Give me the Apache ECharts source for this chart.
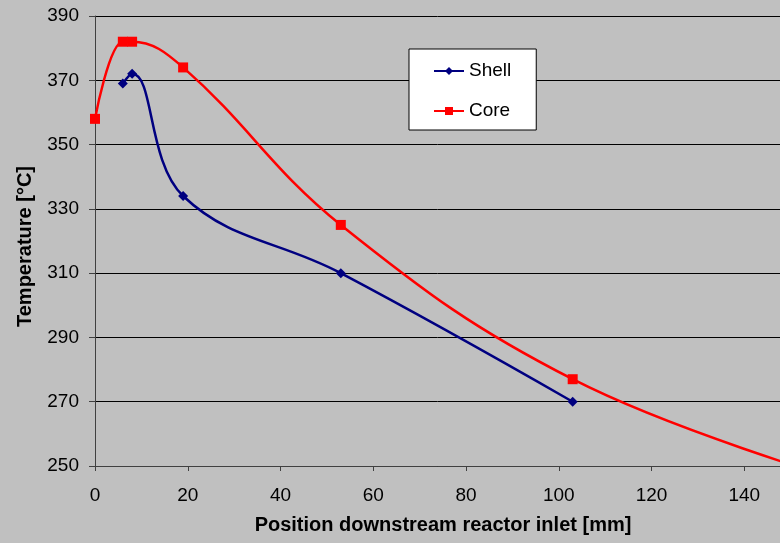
<!DOCTYPE html>
<html>
<head>
<meta charset="utf-8">
<script src="https://cdn.jsdelivr.net/npm/echarts@6/dist/echarts.min.js"></script>
<style>
  html, body { margin: 0; padding: 0; background: #C0C0C0; }
  #chart { width: 780px; height: 543px; }
</style>
</head>
<body>
<div id="chart"></div>
<script>
// Temperature profile along the reactor: shell vs. core
const shellPos  = [6, 8, 19, 53, 103];
const shellTemp = [369, 372, 334, 310, 270];
const corePos   = [0, 6, 8, 19, 53, 103, 160];
const coreTemp  = [358, 382, 382, 374, 325, 277, 246];
const xTicks = { min: 0, max: 147.7, step: 20 };
const yTicks = { min: 250, max: 390, step: 20 };

const pairs = (xs, ys) => xs.map((x, i) => [x, ys[i]]);

const font = 'Arial, "Liberation Sans", sans-serif';
const chart = echarts.init(document.getElementById('chart'));
chart.setOption({
  backgroundColor: '#C0C0C0',
  animation: false,
  textStyle: { fontFamily: font, color: '#000' },
  grid: { left: 95, top: 16, right: 0, bottom: 77 },
  legend: {
    orient: 'vertical',
    left: 409, top: 49,
    padding: [12, 25, 9, 24],
    itemGap: 20,
    itemWidth: 30, itemHeight: 10,
    backgroundColor: '#fff',
    borderColor: '#000', borderWidth: 1,
    textStyle: { fontFamily: font, fontSize: 19, color: '#000', lineHeight: 20 },
    data: ['Shell', 'Core']
  },
  xAxis: {
    type: 'value',
    min: xTicks.min, max: xTicks.max, interval: xTicks.step,
    name: 'Position downstream reactor inlet [mm]',
    nameLocation: 'middle', nameGap: 49,
    nameTextStyle: { fontFamily: font, fontSize: 20, fontWeight: 'bold', color: '#000', padding: [0, 0, 0, 11] },
    axisLine: { lineStyle: { color: '#404040', width: 1 } },
    axisTick: { show: true, length: 5, lineStyle: { color: '#404040' } },
    axisLabel: { fontFamily: font, fontSize: 19, color: '#000', margin: 20, showMaxLabel: false },
    splitLine: { show: false }
  },
  yAxis: {
    type: 'value',
    min: yTicks.min, max: yTicks.max, interval: yTicks.step,
    name: 'Temperature [°C]',
    nameLocation: 'middle', nameGap: 60, nameRotate: 90,
    nameTextStyle: { fontFamily: font, fontSize: 20, fontWeight: 'bold', color: '#000', padding: [0, 11, 0, 0] },
    axisLine: { show: true, lineStyle: { color: '#404040', width: 1 } },
    axisTick: { show: true, length: 6, lineStyle: { color: '#404040' } },
    axisLabel: { fontFamily: font, fontSize: 19, color: '#000', margin: 16 },
    splitLine: { show: true, lineStyle: { color: '#000', width: 1 } }
  },
  series: [
    {
      name: 'Shell', type: 'line', smooth: 0.4, clip: true,
      data: pairs(shellPos, shellTemp),
      symbol: 'diamond', symbolSize: 10,
      lineStyle: { color: '#000080', width: 2.5 },
      itemStyle: { color: '#000080' }
    },
    {
      name: 'Core', type: 'line', smooth: 0.4, clip: true,
      data: pairs(corePos, coreTemp),
      symbol: 'rect', symbolSize: 10,
      lineStyle: { color: '#FF0000', width: 2.5 },
      itemStyle: { color: '#FF0000' }
    }
  ]
});
</script>
</body>
</html>
